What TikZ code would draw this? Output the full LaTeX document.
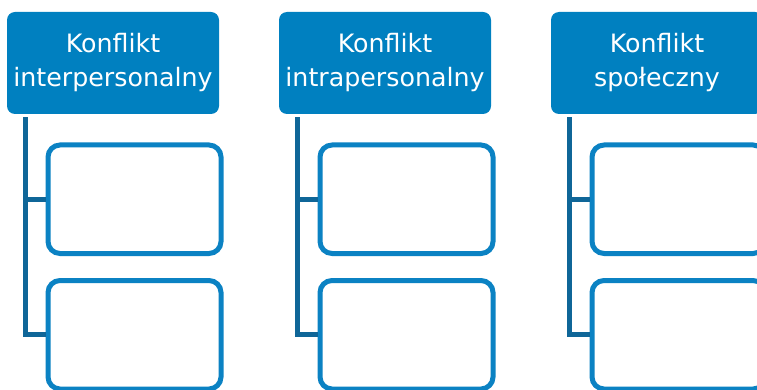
\documentclass[tikz,border=0pt]{standalone}
\usepackage{fontspec}
\setsansfont{DejaVu Sans}
\usetikzlibrary{positioning}
\definecolor{hdrblue}{HTML}{0080C0}
\definecolor{boxblue}{HTML}{0B82C3}
\definecolor{linkblue}{HTML}{0F6698}

\tikzset{
  header/.style={fill=hdrblue, text=white, rounded corners=8pt, inner sep=2pt,
                 minimum width=212pt, minimum height=102pt, align=center,
                 font=\sffamily\fontsize{25.3}{34}\selectfont},
  subbox/.style={draw=boxblue, line width=5pt, fill=white, rounded corners=12pt,
                 minimum width=173pt, minimum height=108.5pt},
  link/.style={draw=linkblue, line width=5pt}
}

\begin{document}
\begin{tikzpicture}[x=1pt, y=-1pt]
    \useasboundingbox (0, 0) rectangle (757, 390);
    \clip (0, 0) rectangle (757, 390);
    \foreach \L/\top/\bot [count=\i] in {7/Konflikt/interpersonalny,
                                         279/Konflikt/intrapersonalny,
                                         551/Konflikt/społeczny} {
      \node[header] (h\i) at (\L+106, 63) {\top\\\bot};
      \node[subbox] (a\i) at (\L+127.5, 199.25) {};
      \node[subbox] (b\i) at (\L+127.5, 334.75) {};
      \draw[link] ([xshift=19pt, yshift=-3pt]h\i.south west) |- (a\i.west);
      \draw[link] ([xshift=19pt, yshift=-3pt]h\i.south west) |- (b\i.west);
    }
  \end{tikzpicture}
\end{document}
